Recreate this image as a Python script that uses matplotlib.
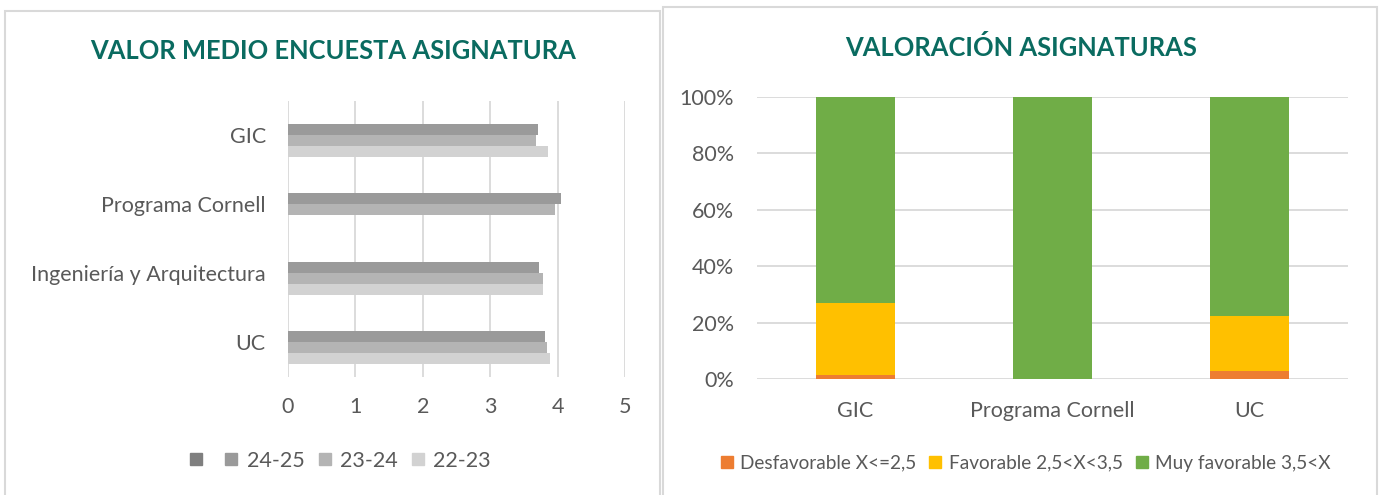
import numpy as np
import matplotlib
matplotlib.use("Agg")
from matplotlib import pyplot as plt
from matplotlib.patches import Rectangle
from matplotlib.lines import Line2D

plt.rcParams['font.family'] = ['Lato', 'DejaVu Sans']

# --- left chart data: mean value of the subject survey ---
categorias = ['GIC', 'Programa Cornell', 'Ingeniería y Arquitectura', 'UC']
cursos = ['', '24-25', '23-24', '22-23']
v_blank = [np.nan, np.nan, np.nan, np.nan]
v_2425 = [3.71, 4.05, 3.72, 3.82]
v_2324 = [3.68, 3.96, 3.78, 3.85]
v_2223 = [3.86, np.nan, 3.78, 3.88]
grises = ['#7f7f7f', '#9a9a9a', '#b4b4b4', '#d2d2d2']

# --- right chart data: subject rating share ---
asignaturas = ['GIC', 'Programa Cornell', 'UC']
desfavorable = [1.5, 0.0, 2.7]
favorable = [25.4, 0.0, 19.5]
muy_favorable = [73.1, 100.0, 77.8]
nombres = ['Desfavorable X<=2,5', 'Favorable 2,5<X<3,5', 'Muy favorable 3,5<X']
colores = ['#ed7d31', '#ffc000', '#70ad47']

W, H = 1382, 495
fig = plt.figure(figsize=(W / 100, H / 100), dpi=100)

def fx(px):
    return px / W

def fy(py):
    return 1 - py / H

gris_txt = '#595959'
gris_lin = '#d9d9d9'
titulo_col = '#0a6b60'

# panel frames
for x0, y0, x1 in [(5, 11, 660), (663, 7, 1377)]:
    fig.patches.append(Rectangle((fx(x0), fy(H + 20)), fx(x1 - x0), (H + 20 - y0) / H,
                                 transform=fig.transFigure, fill=False,
                                 edgecolor=gris_lin, lw=1.5))

# ---------------- left chart ----------------
ax1 = fig.add_axes([fx(288), fy(376.5), fx(625 - 288), (376.5 - 100.5) / H])
y = np.arange(len(categorias))
h = 0.16
series = [v_blank, v_2425, v_2324, v_2223]
for i, (vals, col) in enumerate(zip(series, grises)):
    ax1.barh(y + (i - 1.5) * h, vals, height=h, color=col, zorder=3)
ax1.set_xlim(0, 5)
ax1.set_ylim(len(categorias) - 0.5, -0.5)
ax1.set_xticks(range(6))
ax1.set_yticks(y)
ax1.set_yticklabels(categorias)
ax1.grid(axis='x', color=gris_lin, lw=1.3, zorder=0)
for s in ax1.spines.values():
    s.set_visible(False)
ax1.tick_params(length=0, labelsize=15.5, colors=gris_txt, pad=16)
ax1.tick_params(axis='x', pad=15)

fig.text(fx(333), fy(51), 'VALOR MEDIO ENCUESTA ASIGNATURA', ha='center', va='center',
         fontsize=18.4, fontweight='bold', color=titulo_col)

h1 = [Line2D([], [], ls='none', marker='s', markersize=9, color=c) for c in grises]
fig.legend(h1, cursos, loc='center', bbox_to_anchor=(fx(339), fy(461)), ncol=4,
           frameon=False, fontsize=15.5, labelcolor=gris_txt, handlelength=0.8,
           handletextpad=0.3, columnspacing=0.55)

# ---------------- right chart ----------------
ax2 = fig.add_axes([fx(756.5), fy(379), fx(1348 - 756.5), (379 - 97) / H])
x = np.arange(len(asignaturas))
ancho = 0.4
base = np.zeros(len(asignaturas))
for vals, col, nom in zip([desfavorable, favorable, muy_favorable], colores, nombres):
    ax2.bar(x, vals, ancho, bottom=base, color=col, label=nom, zorder=3)
    base = base + np.array(vals)
ax2.set_xlim(-0.5, len(asignaturas) - 0.5)
ax2.set_ylim(0, 100)
ax2.set_yticks(range(0, 101, 20))
ax2.set_yticklabels([f'{v}%' for v in range(0, 101, 20)])
ax2.set_xticks(x)
ax2.set_xticklabels(asignaturas)
ax2.grid(axis='y', color=gris_lin, lw=1.3, zorder=0)
for s in ax2.spines.values():
    s.set_visible(False)
ax2.tick_params(length=0, labelsize=15.5, colors=gris_txt, pad=16)
ax2.tick_params(axis='x', pad=16)

fig.text(fx(1021), fy(48), 'VALORACIÓN ASIGNATURAS', ha='center', va='center',
         fontsize=18.4, fontweight='bold', color=titulo_col)

h2 = [Line2D([], [], ls='none', marker='s', markersize=9, color=c) for c in colores]
fig.legend(h2, nombres, loc='center', bbox_to_anchor=(fx(1025), fy(463)), ncol=3,
           frameon=False, fontsize=13.7, labelcolor=gris_txt, handlelength=0.8,
           handletextpad=0.3, columnspacing=0.6)

fig.savefig('out.png', dpi=100)
